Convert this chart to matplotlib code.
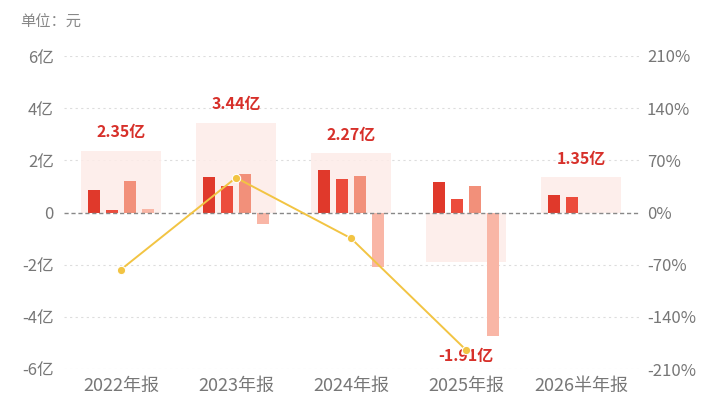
import matplotlib
matplotlib.use("Agg")
import matplotlib.pyplot as plt
import numpy as np

plt.rcParams['font.family'] = ['Noto Sans CJK SC', 'DejaVu Sans']

categories = ["2022年报", "2023年报", "2024年报", "2025年报", "2026半年报"]
totals = [2.35, 3.44, 2.27, -1.91, 1.35]
total_labels = ["2.35亿", "3.44亿", "2.27亿", "-1.91亿", "1.35亿"]
s1 = [0.88, 1.36, 1.63, 1.17, 0.69]
s2 = [0.08, 1.03, 1.28, 0.53, 0.60]
s3 = [1.19, 1.46, 1.41, 1.03, np.nan]
s4 = [0.14, -0.46, -2.10, -4.73, np.nan]
growth = [-76.5, 46.7, -34.6, -184.4, np.nan]
left_ticks = [-6, -4, -2, 0, 2, 4, 6]
left_labels = ["-6亿", "-4亿", "-2亿", "0", "2亿", "4亿", "6亿"]
right_ticks = [-210, -140, -70, 0, 70, 140, 210]
right_labels = ["-210%", "-140%", "-70%", "0%", "70%", "140%", "210%"]

colors = ["#E0392B", "#EC4C3C", "#F2907A", "#F9B6A6"]
bg_color = "#FDECE8"
line_color = "#F2C443"
label_red = "#D7302A"
tick_gray = "#777777"

fig = plt.figure(figsize=(7.2, 4.05), dpi=100)
ax = fig.add_axes([63.5/720, 36/405, 575/720, 313/405])
ax2 = ax.twinx()

x = np.arange(len(categories))
bw = 0.11
step = 18/115
series = [s1, s2, s3, s4]
offsets = [-1.5*step, -0.5*step, 0.5*step, 1.5*step]

# background totals
ax.bar(x, totals, width=80/115, color=bg_color, alpha=0.85, zorder=1)
for i, s in enumerate(series):
    ax.bar(x + offsets[i], s, width=bw, color=colors[i], zorder=3)

for xi, t, lab in zip(x, totals, total_labels):
    if t >= 0:
        ax.text(xi, t + 0.72, lab, ha='center', va='center', color=label_red,
                fontsize=11.5, fontweight='bold', zorder=5)
    else:
        ax.text(xi, -5.5, lab, ha='center', va='center', color=label_red,
                fontsize=11.5, fontweight='bold', zorder=5)

ax.set_ylim(-6, 6)
ax.set_xlim(-0.5, 4.5)
ax.set_yticks(left_ticks)
ax.set_yticklabels(left_labels)
ax.set_xticks(x)
ax.set_xticklabels(categories)
for t in left_ticks:
    if t == 0:
        ax.axhline(0, color="#888888", lw=1.0, ls=(0, (3, 2)), zorder=4)
    else:
        ax.axhline(t, color="#DDDDDD", lw=0.8, ls=(0, (2, 3)), zorder=0)

ax2.plot(x, growth, color=line_color, lw=1.4, marker='o', ms=6,
         markeredgecolor='white', markeredgewidth=0.8, zorder=6)
ax2.set_ylim(-210, 210)
ax2.set_yticks(right_ticks)
ax2.set_yticklabels(right_labels)

for a in (ax, ax2):
    for sp in a.spines.values():
        sp.set_visible(False)
    a.tick_params(length=0, colors=tick_gray, labelsize=12)
ax.tick_params(axis='y', pad=7)
ax2.tick_params(axis='y', pad=6)
ax.tick_params(axis='x', labelsize=13, pad=6)

fig.text(20/720, 1 - 22/405, "单位：元", color="#888888", fontsize=11, va='center', ha='left')

fig.savefig("out.png", dpi=100)
